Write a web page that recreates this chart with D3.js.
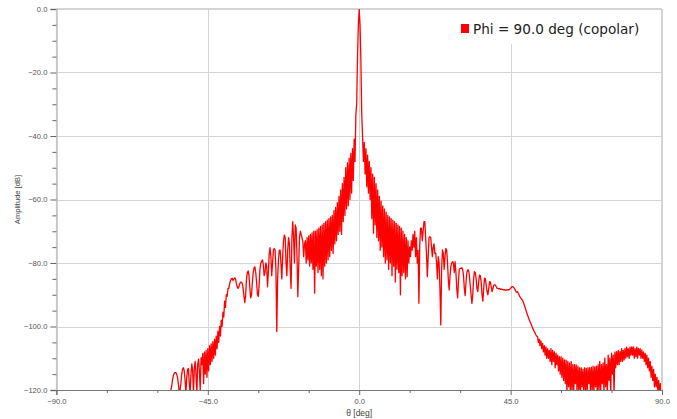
<!DOCTYPE html>
<html>
<head>
<meta charset="utf-8">
<script src="https://cdn.jsdelivr.net/npm/d3@7"></script>
<style>
  html, body { margin: 0; padding: 0; background: #fff; }
  svg { display: block; }
</style>
</head>
<body>
<svg id="chart" width="677" height="419"></svg>
<script>
// ---------- data ----------
const seriesName = "Phi = 90.0 deg (copolar)";
const xTitle = "\u03B8 [deg]";
const yTitle = "Amplitude [dB]";
const xMajorTicks = [-90, -45, 0, 45, 90];
const xMinorTicks = [-75, -60, -30, -15, 15, 30, 60, 75];
const yMajorTicks = [0, -20, -40, -60, -80, -100, -120];
const yMinorTicks = [-5, -10, -15, -25, -30, -35, -45, -50, -55, -65, -70, -75, -85, -90, -95, -105, -110, -115];
const thetaStart = -56;   // first sample angle (deg)
const thetaStep = 0.25;   // sample spacing (deg)
// amplitude in dB, one row per degree (4 samples each), from -56 deg to +90 deg
const amplitude = [
  -120, -119, -117, -115.5,        // -56
  -114.8, -114.5, -114.5, -115,    // -55
  -116, -118, -120.5, -120,        // -54
  -118, -115, -113.5, -113,        // -53
  -114, -117, -121, -116,          // -52
  -113.5, -113.2, -118, -121,      // -51
  -115, -111.8, -114, -121,        // -50
  -113, -111, -115, -121,          // -49
  -112, -110.3, -114, -120,        // -48
  -109.8, -112, -108.5, -118,      // -47
  -108, -115, -107.5, -116,        // -46
  -107, -114, -106, -112,          // -45
  -105.5, -111, -104.8, -110,      // -44
  -104, -109, -103, -107,          // -43
  -101.5, -105, -100, -103,        // -42
  -98, -100, -95.5, -97,           // -41
  -92, -94, -90, -90.5,            // -40
  -88, -88, -86.5, -85.5,          // -39
  -85, -84.8, -85.5, -85,          // -38
  -84.7, -85, -86.5, -87.5,        // -37
  -88, -87.5, -86.5, -86,          // -36
  -86, -86.5, -88, -90.5,          // -35
  -92.5, -90, -85, -83,            // -34
  -82.5, -84, -88, -91,            // -33
  -90, -86, -83, -81.5,            // -32
  -81.2, -83, -86, -90,            // -31
  -90.5, -87, -82, -80,            // -30
  -79.5, -79, -80.5, -84,          // -29
  -83, -80, -81, -87.5,            // -28
  -83, -77, -75.2, -78,            // -27
  -84, -80, -76, -75.4,            // -26
  -76, -82, -101.6, -85,           // -25
  -79, -76, -75.9, -80,            // -24
  -85, -78, -73, -71.2,            // -23
  -72, -80, -84, -76,              // -22
  -72, -74, -82, -88,              // -21
  -72, -67, -72, -80,              // -20
  -68, -69, -77, -90.6,            // -19
  -82, -72, -70, -71,              // -18
  -72, -73.3, -78, -74,            // -17
  -73, -80, -72, -79,              // -16
  -71.5, -81, -71, -80,            // -15
  -70.5, -82, -70, -89.5,          // -14
  -70, -81, -69.5, -83,            // -13
  -69, -82, -68.5, -84,            // -12
  -68, -85, -67.5, -81,            // -11
  -67, -80, -66.5, -79,            // -10
  -66, -78, -65.5, -76,            // -9
  -65, -77, -63.5, -74,            // -8
  -62.5, -73, -61, -71,            // -7
  -59, -70, -57, -71,              // -6
  -55, -67, -53, -65,              // -5
  -50, -63, -48.5, -62,            // -4
  -47, -60, -45.5, -58,            // -3
  -44, -54, -41, -48,              // -2
  -33.4, -30, -15, -5,             // -1
  0, -5, -16, -33,                 // 0
  -40, -48, -42, -52,              // 1
  -44, -56, -46, -58,              // 2
  -48, -60, -50, -66,              // 3
  -52, -70.6, -53, -68,            // 4
  -55, -72, -57, -73,              // 5
  -59, -76, -60.5, -75,            // 6
  -62, -78, -63, -80,              // 7
  -64, -79, -65, -82,              // 8
  -65.5, -80, -66, -84,            // 9
  -66.5, -81, -67, -86,            // 10
  -67.5, -82, -68, -83,            // 11
  -68.5, -90, -69, -84,            // 12
  -70, -83, -71, -85,              // 13
  -72, -84.3, -73, -80,            // 14
  -74.9, -78, -73, -76,            // 15
  -71, -75, -70, -78,              // 16
  -72, -80, -76, -92.7,            // 17
  -74, -69, -69, -73,              // 18
  -70, -67, -67, -72,              // 19
  -77, -84.3, -78, -72,            // 20
  -71.7, -72, -75, -78,            // 21
  -75, -74, -77, -76.9,            // 22
  -80, -85, -78, -80,              // 23
  -88, -99.5, -82, -75.9,          // 24
  -77, -82, -78, -75.4,            // 25
  -76, -80, -85.4, -88.5,          // 26
  -84, -81, -80, -79.6,            // 27
  -80, -83, -79.6, -83,            // 28
  -88, -91, -86, -82,              // 29
  -81.7, -81.7, -81.5, -82,        // 30
  -84, -88, -90.3, -86,            // 31
  -83, -82.2, -82.2, -84,          // 32
  -87, -90, -92.7, -90,            // 33
  -85, -82.7, -83, -85,            // 34
  -88, -89, -86, -83.8,            // 35
  -84, -86, -90, -92,              // 36
  -88, -84.8, -85, -87,            // 37
  -89, -90, -88, -85.9,            // 38
  -86, -87.5, -89, -88,            // 39
  -87, -86.9, -86.9, -87.5,        // 40
  -88, -88, -88.2, -88,            // 41
  -88.3, -88.2, -88.4, -88.3,      // 42
  -88.5, -88.4, -88.6, -88.5,      // 43
  -88.5, -88.4, -88.5, -88.3,      // 44
  -88, -87.6, -87.4, -87.5,        // 45
  -87.8, -88.2, -88.8, -89.2,      // 46
  -89, -89.5, -90, -90.6,          // 47
  -91, -91.3, -91.7, -92.3,        // 48
  -93, -93.8, -94.6, -95.5,        // 49
  -96.3, -97, -97.8, -98.4,        // 50
  -99, -99.7, -100.3, -101,        // 51
  -101.5, -102, -102.6, -103,      // 52
  -103.2, -105, -104, -106,        // 53
  -104.5, -107, -105.3, -108,      // 54
  -106, -109, -106.4, -110,        // 55
  -107, -110, -107.5, -111,        // 56
  -107, -112, -107.5, -111,        // 57
  -108, -113, -108.4, -112,        // 58
  -109, -114, -109.5, -115,        // 59
  -109.5, -116, -110, -117,        // 60
  -110.5, -118, -110.6, -121,      // 61
  -111, -119, -111.5, -121,        // 62
  -111, -120, -112, -121,          // 63
  -112, -118, -112.1, -121,        // 64
  -112.5, -120, -113, -121,        // 65
  -113, -119, -113.5, -121,        // 66
  -113, -120, -113.2, -121,        // 67
  -113, -118, -113, -121,          // 68
  -112.8, -120, -112.5, -121,      // 69
  -112.7, -119, -112.5, -121,      // 70
  -112, -120, -111, -121,          // 71
  -112, -118, -111.5, -121,        // 72
  -110, -119, -112, -121,          // 73
  -109, -117, -110, -121,          // 74
  -108.4, -115, -109, -121,        // 75
  -108, -113, -107.9, -112,        // 76
  -107.5, -112, -107.9, -111,      // 77
  -107, -111, -107.5, -110.5,      // 78
  -106.9, -110, -106.5, -109.5,    // 79
  -107, -110, -106.5, -109,        // 80
  -106.4, -109, -106.4, -110,      // 81
  -107, -109.5, -106.5, -110,      // 82
  -106.9, -109, -107, -110,        // 83
  -107.4, -110, -108, -111,        // 84
  -108.5, -112, -109, -113,        // 85
  -110, -114, -111, -116,          // 86
  -112.5, -117, -113.5, -119,      // 87
  -115, -119, -116, -120,          // 88
  -117, -121, -118, -121,          // 89
  -120                             // 90
];

// ---------- layout ----------
const svg = d3.select("#chart");
const plot = { left: 56.4, right: 662, top: 9, bottom: 390 };

const x = d3.scaleLinear().domain([-90, 90]).range([plot.left, plot.right]);
const y = d3.scaleLinear().domain([-120, 0]).range([plot.bottom, plot.top]);

const series = amplitude.map((v, i) => ({ theta: thetaStart + i * thetaStep, amp: v }));

// grid
const grid = svg.append("g").attr("stroke", "#d4d4d4").attr("stroke-width", 1).attr("shape-rendering", "crispEdges");
grid.selectAll("line.gy").data(yMajorTicks.filter(d => d > -120)).join("line")
  .attr("x1", plot.left).attr("x2", plot.right)
  .attr("y1", d => Math.round(y(d)) + 0.5).attr("y2", d => Math.round(y(d)) + 0.5);
grid.selectAll("line.gx").data(xMajorTicks.filter(d => d > -90)).join("line")
  .attr("y1", plot.top).attr("y2", plot.bottom)
  .attr("x1", d => Math.round(x(d)) + 0.5).attr("x2", d => Math.round(x(d)) + 0.5);

// clip
svg.append("clipPath").attr("id", "clip").append("rect")
  .attr("x", plot.left).attr("y", plot.top)
  .attr("width", plot.right - plot.left).attr("height", plot.bottom - plot.top + 1);

// curve
const line = d3.line().x(d => x(d.theta)).y(d => y(d.amp));
svg.append("path").datum(series)
  .attr("clip-path", "url(#clip)")
  .attr("fill", "none").attr("stroke", "#ff0000").attr("stroke-width", 1.3)
  .attr("stroke-linejoin", "round")
  .attr("d", line);

// axes
const fontTick = "'Liberation Sans', Arial, sans-serif";
const yAxis = d3.axisLeft(y).tickValues(yMajorTicks).tickSize(6).tickPadding(3)
  .tickFormat(d => d3.format(".1f")(d));
const gy = svg.append("g").attr("transform", `translate(${plot.left},0)`).call(yAxis);
const yMinor = d3.axisLeft(y).tickValues(yMinorTicks).tickSize(4).tickFormat("");
svg.append("g").attr("transform", `translate(${plot.left},0)`).call(yMinor).call(g => g.select(".domain").remove());

const xAxis = d3.axisBottom(x).tickValues(xMajorTicks).tickSize(5).tickPadding(4)
  .tickFormat(d => d3.format(".1f")(d));
const gx = svg.append("g").attr("transform", `translate(0,${plot.bottom})`).call(xAxis);
const xMinor = d3.axisBottom(x).tickValues(xMinorTicks).tickSize(3).tickFormat("");
svg.append("g").attr("transform", `translate(0,${plot.bottom})`).call(xMinor).call(g => g.select(".domain").remove());

svg.selectAll(".tick line").attr("stroke", "#666");
svg.selectAll(".tick text").attr("fill", "#555").style("font-family", fontTick).style("font-size", "7.6px");
gy.select(".domain").attr("stroke", "#c8c8c8").attr("stroke-width", 2);
gx.select(".domain").attr("stroke", "#777").attr("stroke-width", 1);

// frame (top & right)
svg.append("line").attr("x1", plot.left).attr("x2", plot.right).attr("y1", plot.top - 0.5).attr("y2", plot.top - 0.5)
  .attr("stroke", "#d4d4d4");
svg.append("line").attr("x1", plot.right - 0.5).attr("x2", plot.right - 0.5).attr("y1", plot.top).attr("y2", plot.bottom)
  .attr("stroke", "#d4d4d4");

// titles
svg.append("text").attr("x", x(0)).attr("y", 416).attr("text-anchor", "middle")
  .attr("fill", "#444").style("font-family", fontTick).style("font-size", "8.5px").text(xTitle);
svg.append("text").attr("transform", `translate(20,${(plot.top + plot.bottom) / 2}) rotate(-90)`)
  .attr("text-anchor", "middle").attr("fill", "#444")
  .style("font-family", fontTick).style("font-size", "7.6px").text(yTitle);

// legend
const lg = svg.append("g");
lg.append("rect").attr("x", 448).attr("y", 10).attr("width", 212).attr("height", 34).attr("fill", "#fff");
lg.append("rect").attr("x", 461).attr("y", 24).attr("width", 8).attr("height", 9).attr("fill", "#ff0000");
lg.append("text").attr("x", 473).attr("y", 33.5).attr("fill", "#222")
  .style("font-family", "'DejaVu Sans', Verdana, sans-serif").style("font-size", "13.6px")
  .text(seriesName);
</script>
</body>
</html>
